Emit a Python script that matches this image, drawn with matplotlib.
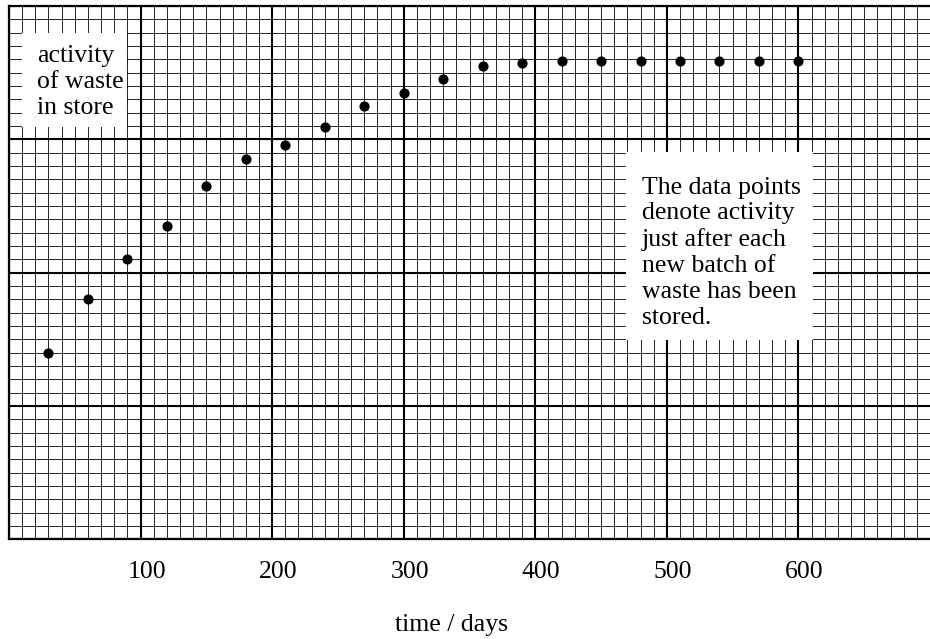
import numpy as np
import matplotlib
matplotlib.use("Agg")
import matplotlib.pyplot as plt
import matplotlib.transforms as mtransforms
from matplotlib.patches import Rectangle

plt.rcParams['font.family'] = ['Liberation Serif', 'DejaVu Serif']

days = [30, 60, 90, 120, 150, 180, 210, 240, 270, 300,
        330, 360, 390, 420, 450, 480, 510, 540, 570, 600]
activity = [14.0, 18.0, 21.0, 23.5, 26.5, 28.5, 29.6, 30.9, 32.5, 33.5,
            34.5, 35.5, 35.75, 35.9, 35.9, 35.9, 35.9, 35.9, 35.9, 35.9]
tick_vals = [100, 200, 300, 400, 500, 600]
tick_labels = ['100', '200', '300', '400', '500', '600']

W, H = 930, 639
fig = plt.figure(figsize=(W / 100, H / 100), dpi=100)
ax = fig.add_axes([9 / W, 99.8 / H, (W - 9) / W, 533.2 / H])
ax.set_xlim(0, 692.5)
ax.set_ylim(0, 40)

# graph paper grid
ax.set_xticks(tick_vals)
ax.set_xticklabels(tick_labels, fontsize=18.5)
ax.set_xticks(np.arange(0, 701, 10), minor=True)
ax.set_yticks(np.arange(0, 41, 10))
ax.set_yticks(np.arange(0, 41, 1), minor=True)
ax.set_yticklabels([])
ax.grid(which='minor', color='black', lw=0.6, zorder=0)
ax.grid(which='major', color='black', lw=1.5, zorder=0)
ax.axvline(0, color='black', lw=1.5, zorder=0)
ax.tick_params(which='both', length=0)
ax.tick_params(axis='x', pad=15.5)
ax.set_axisbelow(True)

for side in ['left', 'top', 'bottom']:
    ax.spines[side].set_linewidth(1.6)
ax.spines['right'].set_visible(False)

off = mtransforms.ScaledTranslation(6 / 100, 0, fig.dpi_scale_trans)
for lbl in ax.get_xticklabels():
    lbl.set_transform(lbl.get_transform() + off)

# white label boxes
ax.add_patch(Rectangle((9.8, 30.9), 80, 7.07, facecolor='white',
                       edgecolor='none', zorder=2))
ax.add_patch(Rectangle((469, 14.94), 142, 14.13, facecolor='white',
                       edgecolor='none', zorder=2))

ax.text(21.1, 37.05, 'activity\nof waste\nin store', fontsize=18.5,
        va='top', ha='left', linespacing=1.22, zorder=3)
ax.text(481, 27.2, 'The data points\ndenote activity\njust after each\n'
        'new batch of\nwaste has been\nstored.', fontsize=18.5,
        va='top', ha='left', linespacing=1.22, zorder=3)

ax.plot(days, activity, 'o', color='black', ms=6.3, zorder=4)

fig.text(451 / W, 1 - 631 / H, 'time / days', fontsize=18.5,
         ha='center', va='baseline')

fig.savefig('out.png', dpi=100)
